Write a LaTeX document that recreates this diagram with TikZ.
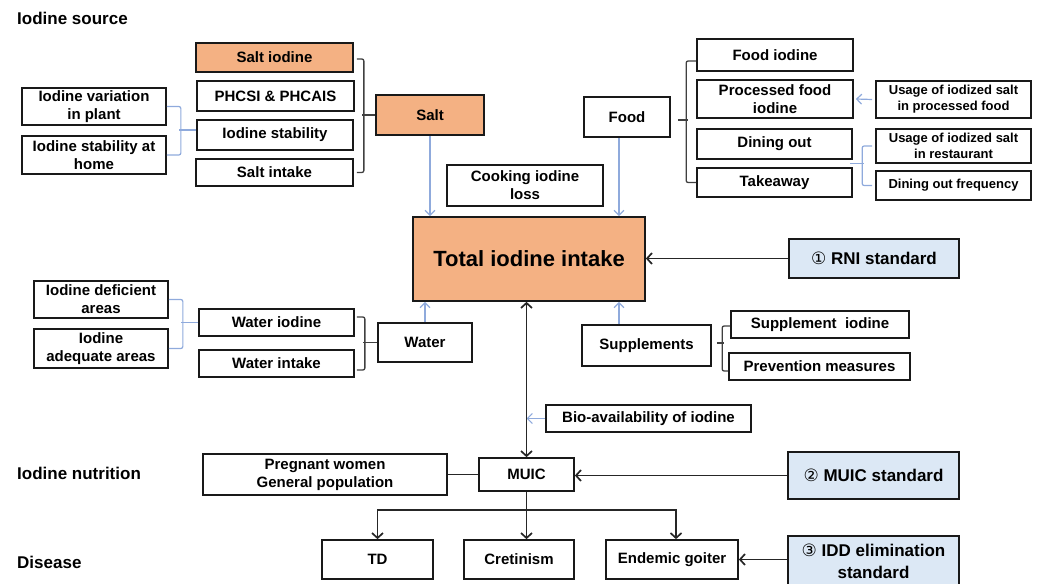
\documentclass[tikz,border=0pt]{standalone}
\usepackage{fontspec}
\setmainfont{Liberation Sans}
\newfontfamily\dejavu{DejaVu Sans}
\usetikzlibrary{arrows.meta,calc}
\definecolor{orangefill}{HTML}{F4B183}
\definecolor{bluefill}{HTML}{DCE8F5}
\definecolor{blueline}{HTML}{8FAADC}
\definecolor{greyline}{HTML}{404040}
\newcommand\fsz[2]{\fontsize{#1}{#2}\selectfont\bfseries}
\tikzset{
 box/.style={draw=black!90, line width=1.7pt, inner sep=0pt, align=center, font=\fsz{15}{18}},
 obox/.style={box, fill=orangefill},
 sbox/.style={box, font=\fsz{13}{16}},
 stdbox/.style={box, fill=bluefill, font=\fsz{17}{22}},
 lbl/.style={anchor=west, inner sep=0pt, font=\fsz{17}{20}},
 barr/.style={draw=blueline, line width=1.2pt, -{Straight Barb[length=5pt,width=10pt]}},
 bbr/.style={draw=blueline, line width=1.2pt, rounded corners=2pt},
 gbr/.style={draw=greyline, line width=1.3pt, rounded corners=2pt},
 karr/.style={draw=black!85, line width=1.7pt, -{Straight Barb[length=5pt,width=11pt]}},
 kdarr/.style={draw=black!85, line width=1.7pt, {Straight Barb[length=5pt,width=11pt]}-{Straight Barb[length=5pt,width=11pt]}},
 kline/.style={draw=black!85, line width=1.7pt},
}
\begin{document}
\begin{tikzpicture}[x=1pt,y=-1pt]
\useasboundingbox (0,0) rectangle (1040,583);
% section labels
\node[lbl] (hsrc) at (17,18.5) {Iodine source};
\node[lbl] (hnut) at (17,473) {Iodine nutrition};
\node[lbl] (hdis) at (17,562) {Disease};
% salt group
\node[obox, minimum width=157pt, minimum height=29pt] (saltiod) at (274.5,57.5) {Salt iodine};
\node[box, minimum width=157pt, minimum height=30pt] (phcsi) at (275.5,96) {PHCSI \& PHCAIS};
\node[box, minimum width=156pt, minimum height=30pt] (iodstab) at (275,135) {Iodine stability};
\node[box, minimum width=157pt, minimum height=27pt] (saltint) at (274.5,172.5) {Salt intake};
\node[obox, minimum width=108pt, minimum height=40pt] (salt) at (430,115) {Salt};
\node[box, minimum width=144pt, minimum height=37pt] (iodvar) at (94,106.5) {Iodine variation\\in plant};
\node[box, minimum width=144pt, minimum height=38pt] (stabhome) at (94,155) {Iodine stability at\\home};
\node[box, minimum width=156pt, minimum height=41pt] (cook) at (525,185.5) {Cooking iodine\\loss};
% food group
\node[box, minimum width=86pt, minimum height=40pt] (food) at (627,117) {Food};
\node[box, minimum width=156pt, minimum height=32pt] (foodiod) at (775,55) {Food iodine};
\node[box, minimum width=156pt, minimum height=38pt] (procfood) at (775,99) {Processed food\\iodine};
\node[box, minimum width=155pt, minimum height=30pt] (dining) at (774.5,144) {Dining out};
\node[box, minimum width=155pt, minimum height=29pt] (takeaway) at (774.5,182.5) {Takeaway};
\node[sbox, minimum width=155pt, minimum height=37pt] (usageproc) at (953.5,99.5) {Usage of iodized salt\\in processed food};
\node[sbox, minimum width=155pt, minimum height=34pt] (usagerest) at (953.5,146) {Usage of iodized salt\\in restaurant};
\node[sbox, minimum width=155pt, minimum height=29pt] (dinfreq) at (953.5,185.5) {Dining out frequency};
% centre
\node[obox, minimum width=232pt, minimum height=84pt, font=\fsz{22}{26}] (total) at (529,259) {Total iodine intake};
\node[stdbox, minimum width=170pt, minimum height=39pt] (rni) at (874,258.5) {{\dejavu\mdseries\fontsize{17}{20}\selectfont ①} RNI standard};
% water group
\node[box, minimum width=134pt, minimum height=37pt] (deficient) at (101,299.5) {Iodine deficient\\areas};
\node[box, minimum width=134pt, minimum height=39pt] (adequate) at (101,348.5) {Iodine\\adequate areas};
\node[box, minimum width=155pt, minimum height=27pt] (wateriod) at (276.5,322.5) {Water iodine};
\node[box, minimum width=155pt, minimum height=27pt] (waterint) at (276.5,363.5) {Water intake};
\node[box, minimum width=94pt, minimum height=39pt] (water) at (425,342.5) {Water};
% supplements group
\node[box, minimum width=129pt, minimum height=41pt] (supps) at (646.5,345.5) {Supplements};
\node[box, minimum width=178pt, minimum height=27pt] (suppiod) at (820,324.5) {Supplement\ \ iodine};
\node[box, minimum width=181pt, minimum height=27pt] (prevent) at (819.5,366.5) {Prevention measures};
% nutrition
\node[box, minimum width=205pt, minimum height=27pt] (bio) at (648.5,418.5) {Bio-availability of iodine};
\node[box, minimum width=95pt, minimum height=33pt] (muic) at (526.5,474.5) {MUIC};
\node[box, minimum width=244pt, minimum height=41pt] (pregnant) at (325,474.5) {Pregnant women\\General population};
\node[stdbox, minimum width=171pt, minimum height=47pt] (muicstd) at (873.5,475.5) {{\dejavu\mdseries\fontsize{17}{20}\selectfont ②} MUIC standard};
% disease
\node[box, minimum width=111pt, minimum height=39pt] (td) at (377.5,559.5) {TD};
\node[box, minimum width=110pt, minimum height=39pt] (cret) at (519,559.5) {Cretinism};
\node[box, minimum width=132pt, minimum height=39pt] (goiter) at (672,559.5) {Endemic goiter};
\node[stdbox, minimum width=171pt, minimum height=56pt] (idd) at (873.5,564) {};
\node[font=\fsz{17}{22}, align=center, inner sep=0pt] (iddtxt) at (873.5,561) {{\dejavu\mdseries\fontsize{17}{20}\selectfont ③} IDD elimination\\standard};

% ---- brackets ----
\draw[gbr] ([shift={(3,1.5)}]saltiod.east) -- ++(7,0) |- ([xshift=3pt]saltint.east);
\draw[gbr] (salt.west) -- ++(-13,0);
\draw[bbr] (iodvar.east) -- ++(14,0) |- (stabhome.east);
\draw[bbr] ([yshift=5pt]iodstab.west) -- ++(-17,0);
\draw[gbr] ([yshift=-6pt]foodiod.west) -- ++(-10,0) |- (takeaway.west);
\draw[gbr] ([shift={(7,3)}]food.east) -- ++(10,0);
\coordinate (dt) at ($(dining.south east)!0.5!(takeaway.north east)$);
\draw[bbr] ([xshift=-3pt]dt) -- ++(14,0);
\draw[bbr] ([xshift=-3pt]usagerest.west) -- ++(-10,0) |- ([xshift=-3pt]dinfreq.west);
\draw[bbr] (deficient.east) -- ++(14,0) |- (adequate.east);
\draw[bbr] (wateriod.west) -- ++(-17,0);
\draw[gbr] ([shift={(2,-5.5)}]wateriod.east) -- ++(8,0) |- ([shift={(2,6.5)}]waterint.east);
\draw[gbr] (water.west) -- ++(-14,0);
\draw[gbr] ([yshift=-1.5pt]suppiod.west) -- ++(-8,0) |- ([yshift=-4.5pt]prevent.west);
\draw[gbr] ([shift={(5,-2.5)}]supps.east) -- ++(7,0);

% ---- blue arrows ----
\draw[barr] (salt.south) -- (salt.south |- total.north);
\draw[barr] ([xshift=-8pt]food.south) -- ([xshift=-8pt]food.south |- total.north);
\draw[barr] (water.north) -- (water.north |- total.south);
\draw[barr] ([xshift=-27.5pt]supps.north) -- ([xshift=-27.5pt]supps.north |- total.south);
\draw[barr] ([xshift=-3pt]usageproc.west) -- ([xshift=2pt]procfood.east);
\draw[barr] (bio.west) -- (bio.west -| muic);

% ---- black arrows ----
\draw[karr] (rni.west) -- (rni.west -| total.east);
\draw[kdarr] (total.south -| muic) -- (muic.north);
\draw[karr] (muicstd.west) -- (muicstd.west -| muic.east);
\draw[kline] (pregnant.east) -- (pregnant.east -| muic.west);
\draw[karr] (idd.west |- goiter.east) -- (goiter.east);
\coordinate (split) at ($(muic.south)+(0,18)$);
\draw[karr] (muic.south) -- (muic.south |- cret.north);
\draw[karr] (split) -| (td.north);
\draw[karr] (split) -| ([xshift=4pt]goiter.north);
\end{tikzpicture}
\end{document}
